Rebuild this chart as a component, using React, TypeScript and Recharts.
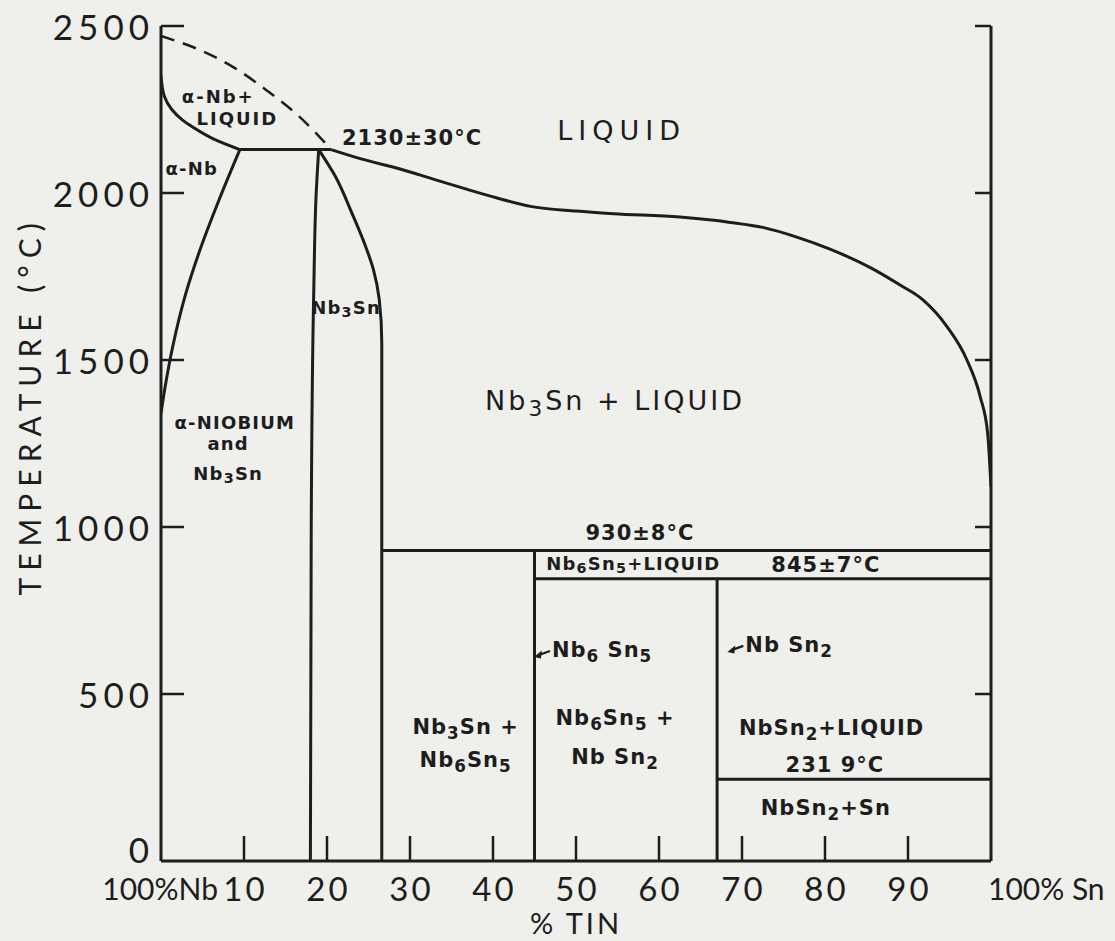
import { ComposedChart, Line, Scatter, XAxis, YAxis } from 'recharts';

// Nb–Sn phase diagram. x = weight % tin, t = temperature in °C.

const INK = '#1d1d1d';
const PAPER = '#efefec';
const FONT = '"DejaVu Sans", "Noto Sans", sans-serif';
const TICK_FONT = 'Lato, "DejaVu Sans", sans-serif';

// ---------------------------------------------------------------------------
// Data
// ---------------------------------------------------------------------------

const xTicks = [0, 10, 20, 30, 40, 50, 60, 70, 80, 90, 100];
const yTicks = [0, 500, 1000, 1500, 2000, 2500];
const xEndLabels: Record<number, string> = { 0: '100%Nb', 100: '100% Sn' };

// alpha-Nb liquidus (solid, top left)
const alphaLiquidus = [
  { x: 0, t: 2350 },
  { x: 0.4, t: 2290 },
  { x: 1.3, t: 2250 },
  { x: 2.6, t: 2218 },
  { x: 3.9, t: 2196 },
  { x: 6.3, t: 2162 },
  { x: 9.5, t: 2130 },
];

// uncertain liquidus (dashed)
const dashedLiquidus = [
  { x: 0, t: 2470 },
  { x: 4.7, t: 2428 },
  { x: 8.7, t: 2377 },
  { x: 12.7, t: 2308 },
  { x: 16.7, t: 2228 },
  { x: 20.5, t: 2130 },
];

// peritectic at 2130 °C
const peritectic = [
  { x: 9.5, t: 2130 },
  { x: 20.5, t: 2130 },
];

// alpha-Nb solvus
const alphaSolvus = [
  { x: 9.5, t: 2130 },
  { x: 7, t: 1980 },
  { x: 4.7, t: 1830 },
  { x: 3, t: 1700 },
  { x: 1.5, t: 1550 },
  { x: 0.5, t: 1420 },
  { x: 0, t: 1340 },
];

// Nb3Sn phase field, left and right boundaries
const nb3snLeft = [
  { x: 19, t: 2130 },
  { x: 18.7, t: 2000 },
  { x: 18.4, t: 1700 },
  { x: 18.1, t: 1000 },
  { x: 18, t: 0 },
];
const nb3snRight = [
  { x: 19, t: 2130 },
  { x: 21, t: 2050 },
  { x: 23, t: 1940 },
  { x: 24.5, t: 1850 },
  { x: 25.6, t: 1770 },
  { x: 26.3, t: 1680 },
  { x: 26.6, t: 1550 },
  { x: 26.6, t: 0 },
];

// main liquidus towards pure tin
const liquidus = [
  { x: 20.5, t: 2130 },
  { x: 24, t: 2103 },
  { x: 28.8, t: 2072 },
  { x: 33, t: 2040 },
  { x: 37, t: 2010 },
  { x: 40.5, t: 1985 },
  { x: 44.5, t: 1960 },
  { x: 50, t: 1946 },
  { x: 54.5, t: 1938 },
  { x: 62.5, t: 1928 },
  { x: 68.6, t: 1912 },
  { x: 72.5, t: 1897 },
  { x: 76.6, t: 1868 },
  { x: 80.6, t: 1832 },
  { x: 85.8, t: 1772 },
  { x: 89, t: 1725 },
  { x: 91.8, t: 1680 },
  { x: 94.7, t: 1600 },
  { x: 97.1, t: 1500 },
  { x: 98.7, t: 1390 },
  { x: 99.6, t: 1280 },
  { x: 100, t: 1120 },
];

const line930 = [
  { x: 26.6, t: 930 },
  { x: 100, t: 930 },
];
const line845 = [
  { x: 45, t: 845 },
  { x: 100, t: 845 },
];
const lineSn = [
  { x: 67, t: 245 },
  { x: 100, t: 245 },
];
const nb6sn5 = [
  { x: 45, t: 0 },
  { x: 45, t: 930 },
];
const nbsn2 = [
  { x: 67, t: 0 },
  { x: 67, t: 845 },
];

// region labels; "_n" marks a subscript digit
const regionLabels = [
  { x: 6.9, t: 2290, text: 'α-Nb+', kind: 'top' },
  { x: 9.2, t: 2226, text: 'LIQUID', kind: 'top' },
  { x: 21.8, t: 2165, text: '2130±30°C', kind: 'mid', anchor: 'start' },
  { x: 55.5, t: 2189, text: 'LIQUID', kind: 'wide' },
  { x: 3.7, t: 2075, text: 'α-Nb', kind: 'sm' },
  { x: 22.3, t: 1659, text: 'Nb_3Sn', kind: 'sm' },
  { x: 8.9, t: 1314, text: 'α-NIOBIUM', kind: 'sm' },
  { x: 8.1, t: 1251, text: 'and', kind: 'sm' },
  { x: 8.1, t: 1162, text: 'Nb_3Sn', kind: 'sm' },
  { x: 54.7, t: 1380, text: 'Nb_3Sn + LIQUID', kind: 'big' },
  { x: 57.7, t: 982, text: '930±8°C', kind: 'mid' },
  { x: 56.9, t: 892, text: 'Nb_6Sn_5+LIQUID', kind: 'sm' },
  { x: 80.1, t: 886, text: '845±7°C', kind: 'mid' },
  { x: 47.1, t: 632, text: 'Nb_6 Sn_5', kind: 'mid', anchor: 'start', arrow: true },
  { x: 70.4, t: 647, text: 'Nb Sn_2', kind: 'mid', anchor: 'start', arrow: true },
  { x: 36.7, t: 401, text: 'Nb_3Sn +', kind: 'mid' },
  { x: 36.7, t: 302, text: 'Nb_6Sn_5', kind: 'mid' },
  { x: 54.7, t: 428, text: 'Nb_6Sn_5 +', kind: 'mid' },
  { x: 54.7, t: 311, text: 'Nb Sn_2', kind: 'mid' },
  { x: 80.8, t: 398, text: 'NbSn_2+LIQUID', kind: 'mid' },
  { x: 81.2, t: 287, text: '231 9°C', kind: 'mid' },
  { x: 80.1, t: 159, text: 'NbSn_2+Sn', kind: 'mid' },
];

const labelStyles: Record<string, { size: number; weight: number; spacing: number }> = {
  big: { size: 27, weight: 400, spacing: 3 },
  wide: { size: 27, weight: 400, spacing: 6 },
  mid: { size: 21, weight: 700, spacing: 1 },
  sm: { size: 18, weight: 700, spacing: 1.2 },
  top: { size: 18, weight: 700, spacing: 2 },
};

// ---------------------------------------------------------------------------
// Chart
// ---------------------------------------------------------------------------

const W = 1115;
const H = 941;

export default function App() {
  const solid = { stroke: INK, strokeWidth: 3, dot: false, activeDot: false, isAnimationActive: false } as const;
  return (
    <div style={{ position: 'absolute', left: 0, top: 0, width: W, height: H, background: PAPER }}>
      <ComposedChart width={W} height={H} margin={{ top: 26, right: 114, left: 61, bottom: 20 }}>
        <XAxis
          type="number"
          dataKey="x"
          domain={[0, 100]}
          ticks={xTicks}
          interval={0}
          allowDataOverflow
          tickSize={0}
          tickMargin={0}
          tickLine={false}
          tick={<XTick />}
          axisLine={{ stroke: INK, strokeWidth: 3 }}
          height={60}
          label={{ content: (p: any) => <XTitle {...p} /> }}
        />
        <YAxis
          type="number"
          dataKey="t"
          domain={[0, 2500]}
          ticks={yTicks}
          interval={0}
          allowDataOverflow
          tickSize={0}
          tickMargin={0}
          tickLine={false}
          tick={<YTick />}
          axisLine={{ stroke: INK, strokeWidth: 3 }}
          width={100}
          label={{ content: (p: any) => <YTitle {...p} /> }}
        />
        <YAxis
          yAxisId="right"
          orientation="right"
          type="number"
          domain={[0, 2500]}
          ticks={yTicks}
          interval={0}
          allowDataOverflow
          tickSize={0}
          tickMargin={0}
          tickLine={false}
          tick={<RightTick />}
          axisLine={{ stroke: INK, strokeWidth: 3 }}
          width={10}
        />

        <Line data={dashedLiquidus} dataKey="t" type="monotoneX" {...solid} strokeWidth={2.5} strokeDasharray="14 9" />
        <Line data={alphaLiquidus} dataKey="t" type="monotoneY" {...solid} />
        <Line data={peritectic} dataKey="t" type="linear" {...solid} />
        <Line data={alphaSolvus} dataKey="t" type="monotoneY" {...solid} />
        <Line data={nb3snLeft} dataKey="t" type="monotoneY" {...solid} />
        <Line data={nb3snRight} dataKey="t" type="monotoneY" {...solid} />
        <Line data={liquidus} dataKey="t" type="monotoneX" {...solid} />
        <Line data={line930} dataKey="t" type="linear" {...solid} />
        <Line data={line845} dataKey="t" type="linear" {...solid} />
        <Line data={lineSn} dataKey="t" type="linear" {...solid} />
        <Line data={nb6sn5} dataKey="t" type="linear" {...solid} />
        <Line data={nbsn2} dataKey="t" type="linear" {...solid} />

        <Scatter data={regionLabels} dataKey="t" isAnimationActive={false} shape={(p: any) => <RegionLabel {...p} />} />
      </ComposedChart>
    </div>
  );
}

// ---------------------------------------------------------------------------
// Axis ticks — inward tick marks drawn from the axis line
// ---------------------------------------------------------------------------

function XTick(props: any) {
  const { x, y, payload } = props;
  const v: number = payload?.value;
  const isEnd = v === 0 || v === 100;
  return (
    <g>
      {!isEnd && <line x1={x} y1={y} x2={x} y2={y - 25} stroke={INK} strokeWidth={2.5} />}
      <text
        x={v === 0 ? x + 57 : v === 100 ? x - 3 : x + 1.5}
        y={y + 27}
        textAnchor={v === 0 ? 'end' : v === 100 ? 'start' : 'middle'}
        dominantBaseline="central"
        fontFamily={TICK_FONT}
        fontSize={isEnd ? 30 : 33}
        letterSpacing={isEnd ? 0 : 3}
        fill={INK}
      >
        {xEndLabels[v] ?? String(v)}
      </text>
    </g>
  );
}

function YTick(props: any) {
  const { x, y, payload } = props;
  const v: number = payload?.value;
  return (
    <g>
      {v > 0 && <line x1={x} y1={y} x2={x + 23} y2={y} stroke={INK} strokeWidth={2.5} />}
      <text
        x={x - 7}
        y={v === 0 ? y - 12 : y}
        textAnchor="end"
        dominantBaseline="central"
        fontFamily={TICK_FONT}
        fontSize={35}
        letterSpacing={5}
        fill={INK}
      >
        {v}
      </text>
    </g>
  );
}

function RightTick(props: any) {
  const { x, y, payload } = props;
  if (!(payload?.value > 0)) return null;
  return <line x1={x} y1={y} x2={x - 16} y2={y} stroke={INK} strokeWidth={2.5} />;
}

function YTitle({ viewBox }: any) {
  if (!viewBox) return null;
  const cx = viewBox.x - 32;
  const cy = viewBox.y + viewBox.height * 0.455;
  return (
    <text
      x={cx}
      y={cy}
      transform={`rotate(-90 ${cx} ${cy})`}
      textAnchor="middle"
      dominantBaseline="central"
      fontFamily={TICK_FONT}
      fontSize={30}
      letterSpacing={7}
      fill={INK}
    >
      TEMPERATURE (°C)
    </text>
  );
}

function XTitle({ viewBox }: any) {
  if (!viewBox) return null;
  return (
    <text
      x={viewBox.x + viewBox.width / 2}
      y={viewBox.y + 61}
      textAnchor="middle"
      dominantBaseline="central"
      fontFamily={TICK_FONT}
      fontSize={29}
      letterSpacing={3}
      fill={INK}
    >
      % TIN
    </text>
  );
}

// ---------------------------------------------------------------------------
// Region labels with subscripts (and optional pointer arrows)
// ---------------------------------------------------------------------------

function richText(text: string, size: number) {
  const parts = text.split(/(_\d)/).filter(Boolean);
  const shift = size * 0.3;
  let inSub = false;
  return parts.map((p, i) => {
    if (p.startsWith('_')) {
      const el = (
        <tspan key={i} dy={inSub ? 0 : shift} fontSize={size * 0.8}>
          {p.slice(1)}
        </tspan>
      );
      inSub = true;
      return el;
    }
    const el = (
      <tspan key={i} dy={inSub ? -shift : 0}>
        {p}
      </tspan>
    );
    inSub = false;
    return el;
  });
}

function RegionLabel(props: any) {
  const { cx, cy } = props;
  const d = props.payload ?? props;
  if (cx == null || cy == null || !d?.text) return null;
  const st = labelStyles[d.kind] ?? labelStyles.mid;
  return (
    <g>
      {d.arrow && (
        <g>
          <line x1={cx - 2} y1={cy + 1} x2={cx - 13} y2={cy + 5} stroke={INK} strokeWidth={2.2} />
          <polygon
            points={`${cx - 18},${cy + 7} ${cx - 10},${cy + 0.5} ${cx - 11},${cy + 8.5}`}
            fill={INK}
          />
        </g>
      )}
      <text
        x={cx}
        y={cy}
        textAnchor={d.anchor ?? 'middle'}
        dominantBaseline="central"
        fontFamily={FONT}
        fontSize={st.size}
        fontWeight={st.weight}
        letterSpacing={st.spacing}
        fill={INK}
      >
        {richText(d.text, st.size)}
      </text>
    </g>
  );
}
